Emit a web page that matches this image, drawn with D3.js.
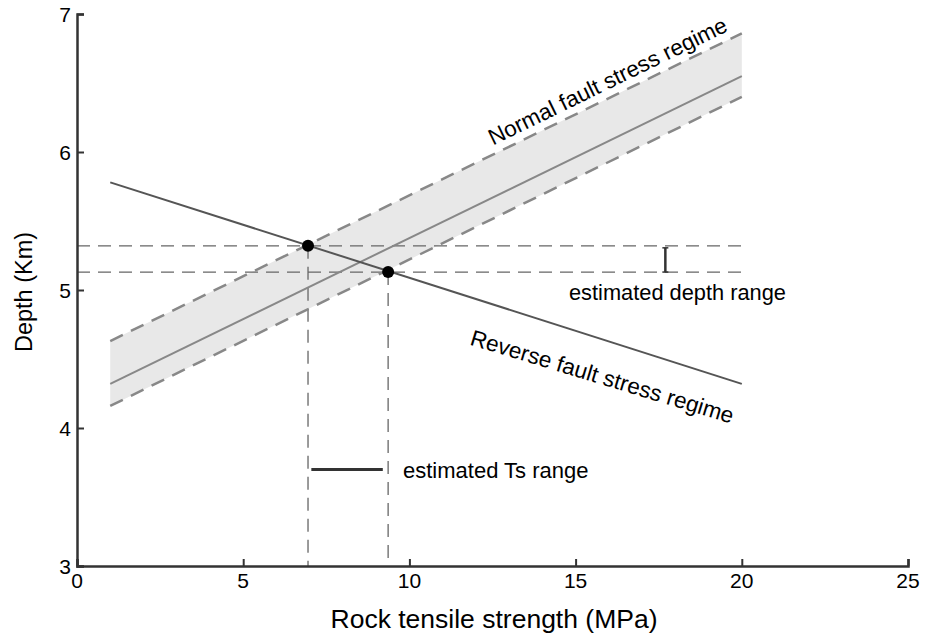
<!DOCTYPE html>
<html>
<head>
  <meta charset="utf-8">
  <title>Depth vs rock tensile strength</title>
  <style>
    body { margin: 0; background: #fff; }
    svg text { font-family: "Liberation Sans", Arial, Helvetica, sans-serif; fill: #000; }
  </style>
</head>
<body>
  <svg id="chart"></svg>

  <script src="https://d3js.org/d3.v7.min.js"></script>
  <script>
    // data
    const xTicks = [0, 5, 10, 15, 20, 25];
    const yTicks = [3, 4, 5, 6, 7];
    const lineX = [1, 20];
    const normalMid = [4.32, 6.55];
    const normalUpper = [4.63, 6.86];
    const normalLower = [4.16, 6.40];
    const reverseFault = [5.78, 4.32];
    const crossX = [6.95, 9.36];
    const crossY = [5.32, 5.13];
    const depthRangeX = 17.7;
    const tsRange = [7.05, 9.2];
    const tsRangeY = 3.7;

    const width = 926, height = 637;
    const margin = { left: 77, top: 14, right: 18, bottom: 71 };

    const svg = d3.select("#chart").attr("width", width).attr("height", height);

    const x = d3.scaleLinear().domain([0, 25]).range([margin.left, width - margin.right]);
    const y = d3.scaleLinear().domain([3, 7]).range([height - margin.bottom, margin.top]);

    const line = d3.line().x(d => x(d[0])).y(d => y(d[1]));
    const pts = arr => lineX.map((v, i) => [v, arr[i]]);

    // shaded band
    svg.append("path")
      .datum(lineX.map((v, i) => ({ x: v, lo: normalLower[i], hi: normalUpper[i] })))
      .attr("fill", "#e8e8e8")
      .attr("d", d3.area().x(d => x(d.x)).y0(d => y(d.lo)).y1(d => y(d.hi)));

    // horizontal reference dashes
    crossY.forEach(v => {
      svg.append("path")
        .datum([[0, v], [20, v]])
        .attr("d", line)
        .attr("fill", "none").attr("stroke", "#666").attr("stroke-width", 1.3)
        .attr("stroke-dasharray", "13,8");
    });

    // vertical reference dashes
    crossX.forEach((v, i) => {
      svg.append("path")
        .datum([[v, crossY[i]], [v, 3]])
        .attr("d", line)
        .attr("fill", "none").attr("stroke", "#666").attr("stroke-width", 1.3)
        .attr("stroke-dasharray", "13,8");
    });

    // band edges
    [normalUpper, normalLower].forEach(arr => {
      svg.append("path")
        .datum(pts(arr))
        .attr("d", line)
        .attr("fill", "none").attr("stroke", "#888").attr("stroke-width", 2.5)
        .attr("stroke-dasharray", "14,9");
    });

    // centre line
    svg.append("path").datum(pts(normalMid)).attr("d", line)
      .attr("fill", "none").attr("stroke", "#888").attr("stroke-width", 2);

    // reverse fault line
    svg.append("path").datum(pts(reverseFault)).attr("d", line)
      .attr("fill", "none").attr("stroke", "#555").attr("stroke-width", 2);

    // intersection points
    svg.selectAll(".dot").data(crossX).enter().append("circle")
      .attr("cx", d => x(d)).attr("cy", (d, i) => y(crossY[i])).attr("r", 6)
      .attr("fill", "#000");

    // depth range bar
    const ebar = svg.append("g").attr("stroke", "#333").attr("stroke-width", 2.5);
    ebar.append("line").attr("x1", x(depthRangeX)).attr("x2", x(depthRangeX))
      .attr("y1", y(crossY[0]) + 2).attr("y2", y(crossY[1]));
    crossY.forEach((v, i) => {
      const yy = i === 0 ? y(v) + 2 : y(v);
      ebar.append("line").attr("x1", x(depthRangeX) - 3).attr("x2", x(depthRangeX) + 3)
        .attr("y1", yy).attr("y2", yy).attr("stroke-width", 1.5);
    });

    // Ts range bar
    svg.append("line")
      .attr("x1", x(tsRange[0])).attr("x2", x(tsRange[1]))
      .attr("y1", y(tsRangeY)).attr("y2", y(tsRangeY))
      .attr("stroke", "#333").attr("stroke-width", 3);

    // axes
    const xAxis = svg.append("g").attr("transform", `translate(0,${y(3)})`)
      .call(d3.axisTop(x).tickValues(xTicks).tickSize(7).tickFormat(""));
    const yAxis = svg.append("g").attr("transform", `translate(${x(0)},0)`)
      .call(d3.axisRight(y).tickValues(yTicks).tickSize(7).tickFormat(""));
    [xAxis, yAxis].forEach(g => {
      g.select(".domain").attr("stroke", "#333").attr("stroke-width", 2.5);
      g.selectAll(".tick line").attr("stroke", "#333").attr("stroke-width", 2);
    });

    svg.selectAll(".xt").data(xTicks).enter().append("text")
      .attr("x", d => x(d)).attr("y", y(3) + 22)
      .attr("text-anchor", "middle").attr("font-size", 21)
      .text(d => d);
    svg.selectAll(".yt").data(yTicks).enter().append("text")
      .attr("x", x(0) - 6).attr("y", d => y(d) + 7.5)
      .attr("text-anchor", "end").attr("font-size", 21)
      .text(d => d);

    // axis titles
    svg.append("text").attr("x", 494).attr("y", 628)
      .attr("text-anchor", "middle").attr("font-size", 26.5)
      .text("Rock tensile strength (MPa)");
    svg.append("text")
      .attr("transform", `translate(32,292) rotate(-90)`)
      .attr("text-anchor", "middle").attr("font-size", 23.5)
      .text("Depth (Km)");

    // annotations
    svg.append("text")
      .attr("transform", `translate(611,88) rotate(-26)`)
      .attr("text-anchor", "middle").attr("font-size", 22.5)
      .text("Normal fault stress regime");
    svg.append("text")
      .attr("transform", `translate(600,384) rotate(16.8)`)
      .attr("text-anchor", "middle").attr("font-size", 22.5)
      .text("Reverse fault stress regime");
    svg.append("text")
      .attr("x", 569).attr("y", 300).attr("font-size", 21.8)
      .text("estimated depth range");
    svg.append("text")
      .attr("x", 403).attr("y", 478).attr("font-size", 22)
      .text("estimated Ts range");
  </script>
</body>
</html>
